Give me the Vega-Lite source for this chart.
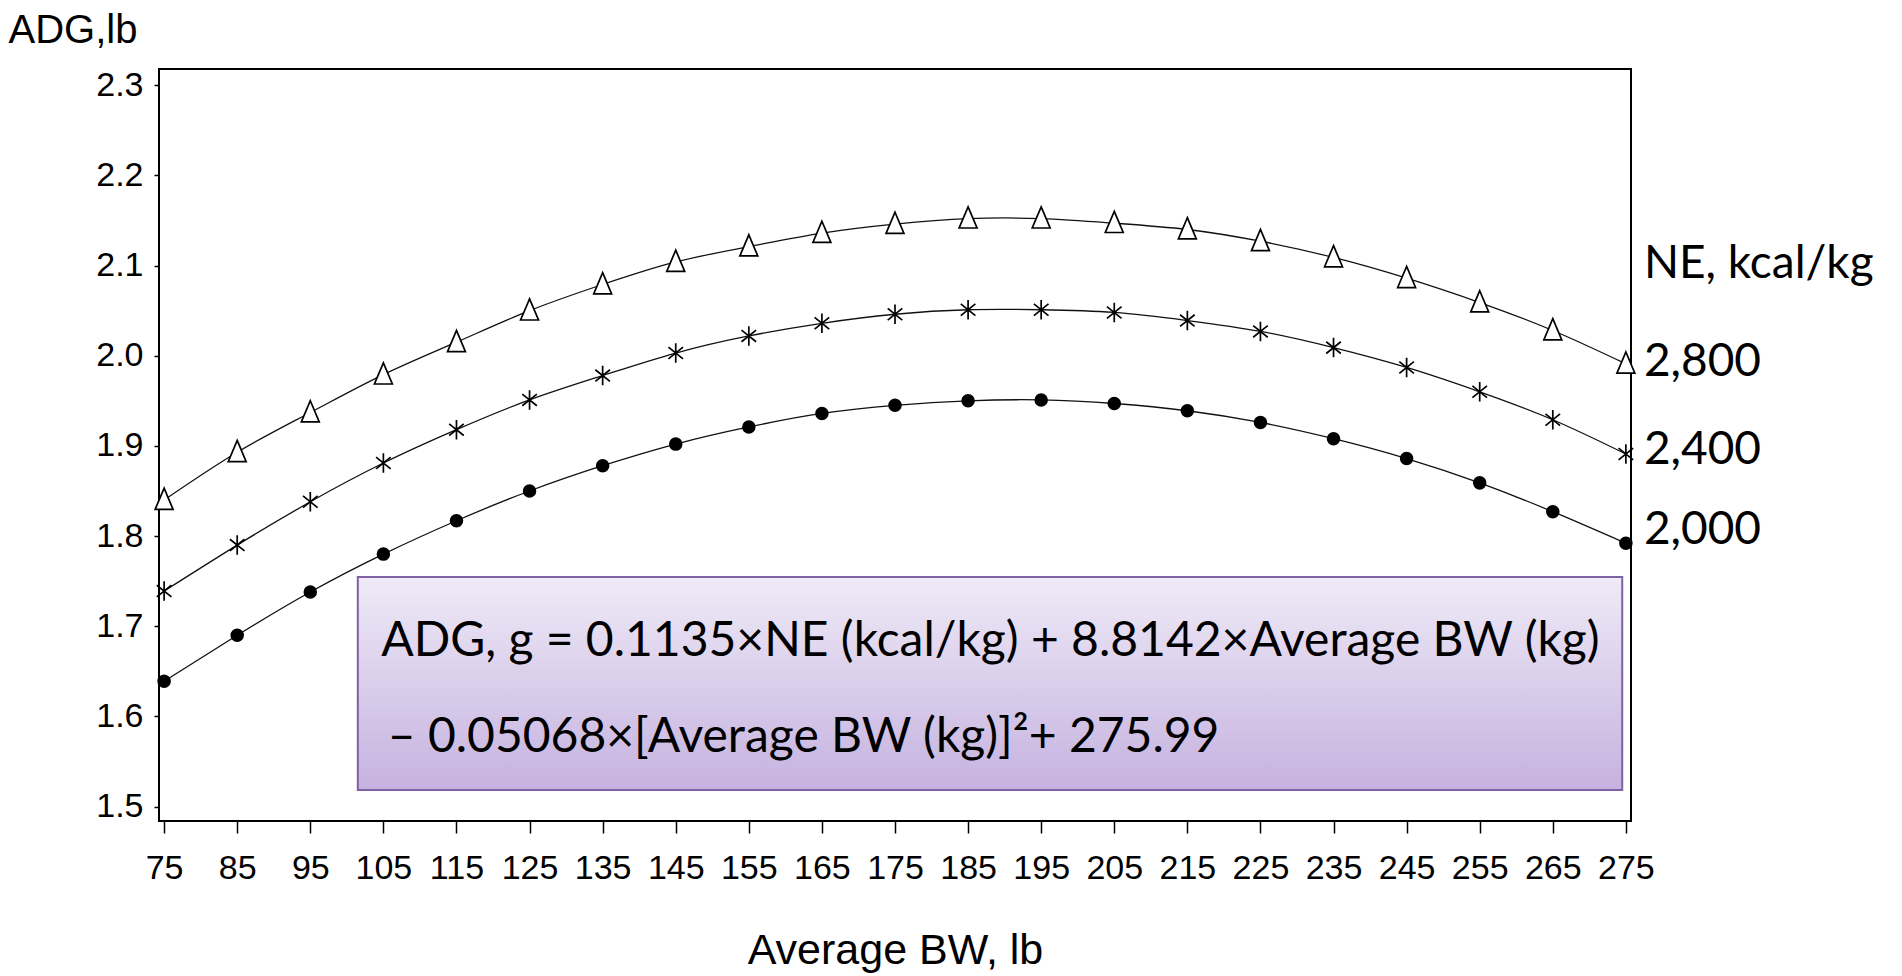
{
  "$schema": "https://vega.github.io/schema/vega-lite/v6.json",
  "width": 1472,
  "height": 752,
  "autosize": {"type": "none"},
  "padding": {"left": 159, "top": 69, "right": 271, "bottom": 155},
  "background": "white",
  "config": {
    "view": {"stroke": "black", "strokeWidth": 2},
    "axis": {"grid": false, "domain": false, "tickColor": "black", "labelColor": "black", "titleColor": "black", "tickWidth": 1.5}
  },
  "datasets": {
    "series": [
      {"bw": 75, "adg": 1.840, "ne": "2,800"}, {"bw": 85, "adg": 1.893, "ne": "2,800"}, {"bw": 95, "adg": 1.937, "ne": "2,800"},
      {"bw": 105, "adg": 1.979, "ne": "2,800"}, {"bw": 115, "adg": 2.015, "ne": "2,800"}, {"bw": 125, "adg": 2.050, "ne": "2,800"},
      {"bw": 135, "adg": 2.079, "ne": "2,800"}, {"bw": 145, "adg": 2.104, "ne": "2,800"}, {"bw": 155, "adg": 2.121, "ne": "2,800"},
      {"bw": 165, "adg": 2.136, "ne": "2,800"}, {"bw": 175, "adg": 2.146, "ne": "2,800"}, {"bw": 185, "adg": 2.152, "ne": "2,800"},
      {"bw": 195, "adg": 2.152, "ne": "2,800"}, {"bw": 205, "adg": 2.147, "ne": "2,800"}, {"bw": 215, "adg": 2.140, "ne": "2,800"},
      {"bw": 225, "adg": 2.127, "ne": "2,800"}, {"bw": 235, "adg": 2.109, "ne": "2,800"}, {"bw": 245, "adg": 2.086, "ne": "2,800"},
      {"bw": 255, "adg": 2.059, "ne": "2,800"}, {"bw": 265, "adg": 2.028, "ne": "2,800"}, {"bw": 275, "adg": 1.991, "ne": "2,800"},
      {"bw": 75, "adg": 1.739, "ne": "2,400"}, {"bw": 85, "adg": 1.790, "ne": "2,400"}, {"bw": 95, "adg": 1.838, "ne": "2,400"},
      {"bw": 105, "adg": 1.881, "ne": "2,400"}, {"bw": 115, "adg": 1.918, "ne": "2,400"}, {"bw": 125, "adg": 1.951, "ne": "2,400"},
      {"bw": 135, "adg": 1.978, "ne": "2,400"}, {"bw": 145, "adg": 2.003, "ne": "2,400"}, {"bw": 155, "adg": 2.022, "ne": "2,400"},
      {"bw": 165, "adg": 2.036, "ne": "2,400"}, {"bw": 175, "adg": 2.046, "ne": "2,400"}, {"bw": 185, "adg": 2.051, "ne": "2,400"},
      {"bw": 195, "adg": 2.051, "ne": "2,400"}, {"bw": 205, "adg": 2.048, "ne": "2,400"}, {"bw": 215, "adg": 2.039, "ne": "2,400"},
      {"bw": 225, "adg": 2.027, "ne": "2,400"}, {"bw": 235, "adg": 2.009, "ne": "2,400"}, {"bw": 245, "adg": 1.987, "ne": "2,400"},
      {"bw": 255, "adg": 1.960, "ne": "2,400"}, {"bw": 265, "adg": 1.929, "ne": "2,400"}, {"bw": 275, "adg": 1.891, "ne": "2,400"},
      {"bw": 75, "adg": 1.639, "ne": "2,000"}, {"bw": 85, "adg": 1.690, "ne": "2,000"}, {"bw": 95, "adg": 1.738, "ne": "2,000"},
      {"bw": 105, "adg": 1.780, "ne": "2,000"}, {"bw": 115, "adg": 1.817, "ne": "2,000"}, {"bw": 125, "adg": 1.850, "ne": "2,000"},
      {"bw": 135, "adg": 1.878, "ne": "2,000"}, {"bw": 145, "adg": 1.902, "ne": "2,000"}, {"bw": 155, "adg": 1.921, "ne": "2,000"},
      {"bw": 165, "adg": 1.936, "ne": "2,000"}, {"bw": 175, "adg": 1.945, "ne": "2,000"}, {"bw": 185, "adg": 1.950, "ne": "2,000"},
      {"bw": 195, "adg": 1.951, "ne": "2,000"}, {"bw": 205, "adg": 1.947, "ne": "2,000"}, {"bw": 215, "adg": 1.939, "ne": "2,000"},
      {"bw": 225, "adg": 1.926, "ne": "2,000"}, {"bw": 235, "adg": 1.908, "ne": "2,000"}, {"bw": 245, "adg": 1.886, "ne": "2,000"},
      {"bw": 255, "adg": 1.859, "ne": "2,000"}, {"bw": 265, "adg": 1.827, "ne": "2,000"}, {"bw": 275, "adg": 1.792, "ne": "2,000"}
    ],
    "box": [{"bw": 101.5, "bw2": 274.5, "adg": 1.7545, "adg2": 1.5185}],
    "eq": [
      {"bw": 104.7, "adg": 1.667, "text": "ADG, g = 0.1135×NE (kcal/kg) + 8.8142×Average BW (kg)"},
      {"bw": 105.6, "adg": 1.561, "text": "– 0.05068×[Average BW (kg)]²+ 275.99"}
    ],
    "labels": [
      {"bw": 275, "adg": 2.102, "text": "NE, kcal/kg"},
      {"bw": 275, "adg": 1.993, "text": "2,800"},
      {"bw": 275, "adg": 1.895, "text": "2,400"},
      {"bw": 275, "adg": 1.807, "text": "2,000"}
    ]
  },
  "encoding": {
    "x": {
      "field": "bw", "type": "quantitative",
      "scale": {"domain": [74.3, 275.7], "nice": false, "zero": false},
      "axis": {
        "title": "Average BW, lb",
        "values": [75, 85, 95, 105, 115, 125, 135, 145, 155, 165, 175, 185, 195, 205, 215, 225, 235, 245, 255, 265, 275],
        "tickSize": 12, "labelPadding": 18,
        "labelFont": "Liberation Sans", "labelFontSize": 34,
        "titleFont": "Liberation Sans", "titleFontSize": 43, "titleFontWeight": "normal",
        "titleBaseline": "alphabetic", "titleY": 142
      }
    },
    "y": {
      "field": "adg", "type": "quantitative",
      "scale": {"domain": [1.484, 2.318], "nice": false, "zero": false},
      "axis": {
        "title": "ADG,lb",
        "values": [1.5, 1.6, 1.7, 1.8, 1.9, 2.0, 2.1, 2.2, 2.3],
        "format": ".1f",
        "tickSize": 5, "labelPadding": 11,
        "labelFont": "Liberation Sans", "labelFontSize": 34,
        "titleFont": "Liberation Sans", "titleFontSize": 40, "titleFontWeight": "normal",
        "titleAngle": 0, "titleAlign": "left", "titleBaseline": "alphabetic",
        "titleX": -151, "titleY": -27
      }
    }
  },
  "layer": [
    {
      "data": {"name": "box"},
      "mark": {
        "type": "rect",
        "fill": {"gradient": "linear", "x1": 0, "y1": 0, "x2": 0, "y2": 1,
          "stops": [{"offset": 0, "color": "#efeaf7"}, {"offset": 1, "color": "#c5b2df"}]},
        "stroke": "#7e62a3", "strokeWidth": 2
      },
      "encoding": {"x2": {"field": "bw2"}, "y2": {"field": "adg2"}}
    },
    {
      "data": {"name": "eq"},
      "mark": {"type": "text", "align": "left", "baseline": "alphabetic", "font": "Lato", "fontSize": 48, "color": "black"},
      "encoding": {"text": {"field": "text"}}
    },
    {
      "data": {"name": "series"},
      "mark": {"type": "line", "interpolate": "natural", "color": "#111111", "strokeWidth": 1.3},
      "encoding": {"detail": {"field": "ne"}}
    },
    {
      "data": {"name": "series"},
      "mark": {"type": "point", "stroke": "black", "strokeWidth": 1.7, "opacity": 1},
      "encoding": {
        "shape": {"field": "ne", "type": "nominal", "legend": null,
          "scale": {"domain": ["2,000", "2,400", "2,800"],
            "range": ["circle", "M0,-1L0,1M-0.75,-0.6L0.75,0.6M-0.75,0.6L0.75,-0.6", "M0,-0.95L0.72,0.75L-0.72,0.75Z"]}},
        "fill": {"field": "ne", "type": "nominal", "legend": null,
          "scale": {"domain": ["2,000", "2,400", "2,800"], "range": ["black", "transparent", "white"]}},
        "size": {"field": "ne", "type": "nominal", "legend": null,
          "scale": {"domain": ["2,000", "2,400", "2,800"], "range": [140, 620, 520]}}
      }
    },
    {
      "data": {"name": "labels"},
      "mark": {"type": "text", "align": "left", "baseline": "middle", "dx": 18, "font": "Lato", "fontSize": 46, "color": "black"},
      "encoding": {"text": {"field": "text"}}
    }
  ]
}
